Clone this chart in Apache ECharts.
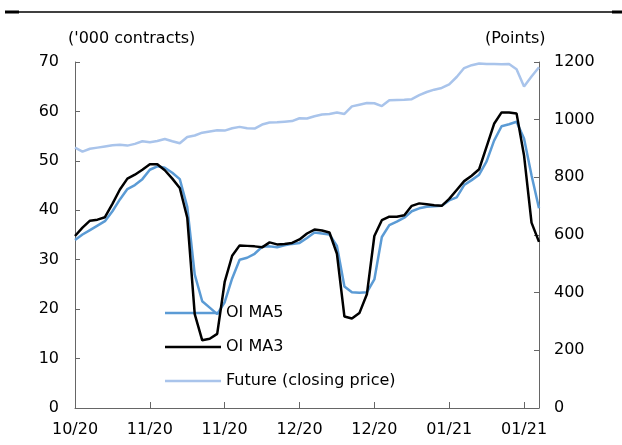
<!DOCTYPE html>
<html>
<head>
<meta charset="utf-8">
<script src="https://cdn.jsdelivr.net/npm/echarts@6/dist/echarts.min.js"></script>
<style>
  html, body { margin: 0; padding: 0; background: #fff; }
  #chart { width: 622px; height: 445px; }
</style>
</head>
<body>
<div id="chart"></div>
<script>
// x 轴刻度标签（每 10 个点一个）
const tickLabels = ['10/20', '11/20', '11/20', '12/20', '12/20', '01/21', '01/21'];

// OI MA5 ('000 contracts)
const oiMa5 = [
  34.0, 35.1, 36.0, 36.9, 37.8, 39.8, 42.2, 44.3, 45.1, 46.3,
  48.2, 48.9, 48.6, 47.6, 46.3, 40.7, 27.0, 21.6, 20.3, 19.0,
  21.4, 26.2, 30.0, 30.4, 31.2, 32.6, 32.7, 32.5, 32.9, 33.2,
  33.4, 34.4, 35.5, 35.3, 35.1, 32.8, 24.6, 23.4, 23.3, 23.4,
  26.0, 34.6, 37.0, 37.7, 38.5, 39.8, 40.4, 40.7, 40.8, 40.9,
  42.0, 42.6, 45.1, 46.1, 47.2, 49.9, 54.1, 57.0, 57.4, 57.9,
  54.5, 47.1, 40.4
];

// OI MA3 ('000 contracts)
const oiMa3 = [
  34.8, 36.5, 37.9, 38.1, 38.6, 41.3, 44.2, 46.4, 47.2, 48.2,
  49.3, 49.3, 48.1, 46.4, 44.5, 38.5, 19.0, 13.7, 14.0, 15.0,
  25.5, 30.8, 32.9, 32.8, 32.7, 32.5, 33.5, 33.1, 33.2, 33.4,
  34.1, 35.3, 36.1, 35.9, 35.5, 31.2, 18.5, 18.1, 19.2, 23.0,
  34.8, 38.0, 38.7, 38.7, 39.0, 40.9, 41.4, 41.2, 41.0, 40.9,
  42.3, 44.1, 45.9, 47.0, 48.3, 52.9, 57.5, 59.8, 59.8, 59.6,
  51.1, 37.5, 33.6
];

// Future (closing price), Points
const futureClose = [
  903, 889, 899, 903, 907, 911, 913, 910, 916, 925,
  922, 926, 933, 925, 918, 940, 945, 955, 959, 963,
  962, 970, 975, 970, 969, 983, 990, 991, 993, 995,
  1005, 1004, 1012, 1018, 1020, 1025, 1020, 1046, 1052, 1058,
  1057, 1047, 1067, 1068, 1069, 1071, 1085, 1096, 1104, 1110,
  1122, 1148, 1179, 1189, 1195, 1193, 1193, 1192, 1193, 1175,
  1115, 1150, 1182
];

const categories = oiMa5.map((v, i) => i);

const chart = echarts.init(document.getElementById('chart'));
const axisColor = '#666666';
const font = 'DejaVu Sans';
const lineIcon = 'path://M0,0L55,0L55,2.5L0,2.5Z';

chart.setOption({
  animation: false,
  textStyle: { fontFamily: font },
  grid: { left: 75, right: 83, top: 62, bottom: 37 },
  legend: {
    orient: 'vertical',
    left: 160,
    top: 299,
    itemWidth: 56,
    itemHeight: 3,
    itemGap: 16,
    textStyle: { fontFamily: font, fontSize: 16, color: '#000', lineHeight: 18 },
    data: [
      { name: 'OI MA5', icon: lineIcon },
      { name: 'OI MA3', icon: lineIcon },
      { name: 'Future (closing price)', icon: lineIcon }
    ]
  },
  xAxis: {
    type: 'category',
    data: categories,
    boundaryGap: false,
    axisLine: { lineStyle: { color: axisColor, width: 1 } },
    axisTick: { inside: true, length: 6, interval: 9, lineStyle: { color: axisColor } },
    axisLabel: {
      interval: 9,
      margin: 14,
      fontSize: 16,
      color: '#000',
      formatter: (v, i) => tickLabels[i / 10] || ''
    }
  },
  yAxis: [
    {
      type: 'value',
      min: 0, max: 70, interval: 10,
      axisLine: { show: true, lineStyle: { color: axisColor, width: 1 } },
      axisTick: { show: true, inside: true, length: 5, lineStyle: { color: axisColor } },
      axisLabel: { fontSize: 16, color: '#000', margin: 16 },
      splitLine: { show: false }
    },
    {
      type: 'value',
      min: 0, max: 1200, interval: 200,
      position: 'right',
      axisLine: { show: true, lineStyle: { color: axisColor, width: 1 } },
      axisTick: { show: true, inside: true, length: 5, lineStyle: { color: axisColor } },
      axisLabel: { fontSize: 16, color: '#000', margin: 15, formatter: v => String(v) },
      splitLine: { show: false }
    }
  ],
  series: [
    {
      name: 'OI MA5', type: 'line', data: oiMa5, yAxisIndex: 0,
      symbol: 'none', lineStyle: { color: '#5b9bd5', width: 2.5 }, itemStyle: { color: '#5b9bd5' }, z: 3
    },
    {
      name: 'OI MA3', type: 'line', data: oiMa3, yAxisIndex: 0,
      symbol: 'none', lineStyle: { color: '#000000', width: 2.5 }, itemStyle: { color: '#000000' }, z: 4
    },
    {
      name: 'Future (closing price)', type: 'line', data: futureClose, yAxisIndex: 1,
      symbol: 'none', lineStyle: { color: '#a9c4eb', width: 2.5 }, itemStyle: { color: '#a9c4eb' }, z: 2
    }
  ],
  graphic: [
    // 顶部横线
    { type: 'line', shape: { x1: 5, y1: 12, x2: 617, y2: 12 }, style: { stroke: '#000', lineWidth: 1.5 } },
    { type: 'line', shape: { x1: 5, y1: 12, x2: 19, y2: 12 }, style: { stroke: '#000', lineWidth: 3 } },
    { type: 'line', shape: { x1: 612, y1: 12, x2: 622, y2: 12 }, style: { stroke: '#000', lineWidth: 3 } },
    // 坐标轴单位
    { type: 'text', left: 68, top: 31, style: { text: "('000 contracts)", font: '16px "DejaVu Sans"', fill: '#000' } },
    { type: 'text', left: 485, top: 31, style: { text: '(Points)', font: '16px "DejaVu Sans"', fill: '#000' } }
  ]
});
</script>
</body>
</html>
